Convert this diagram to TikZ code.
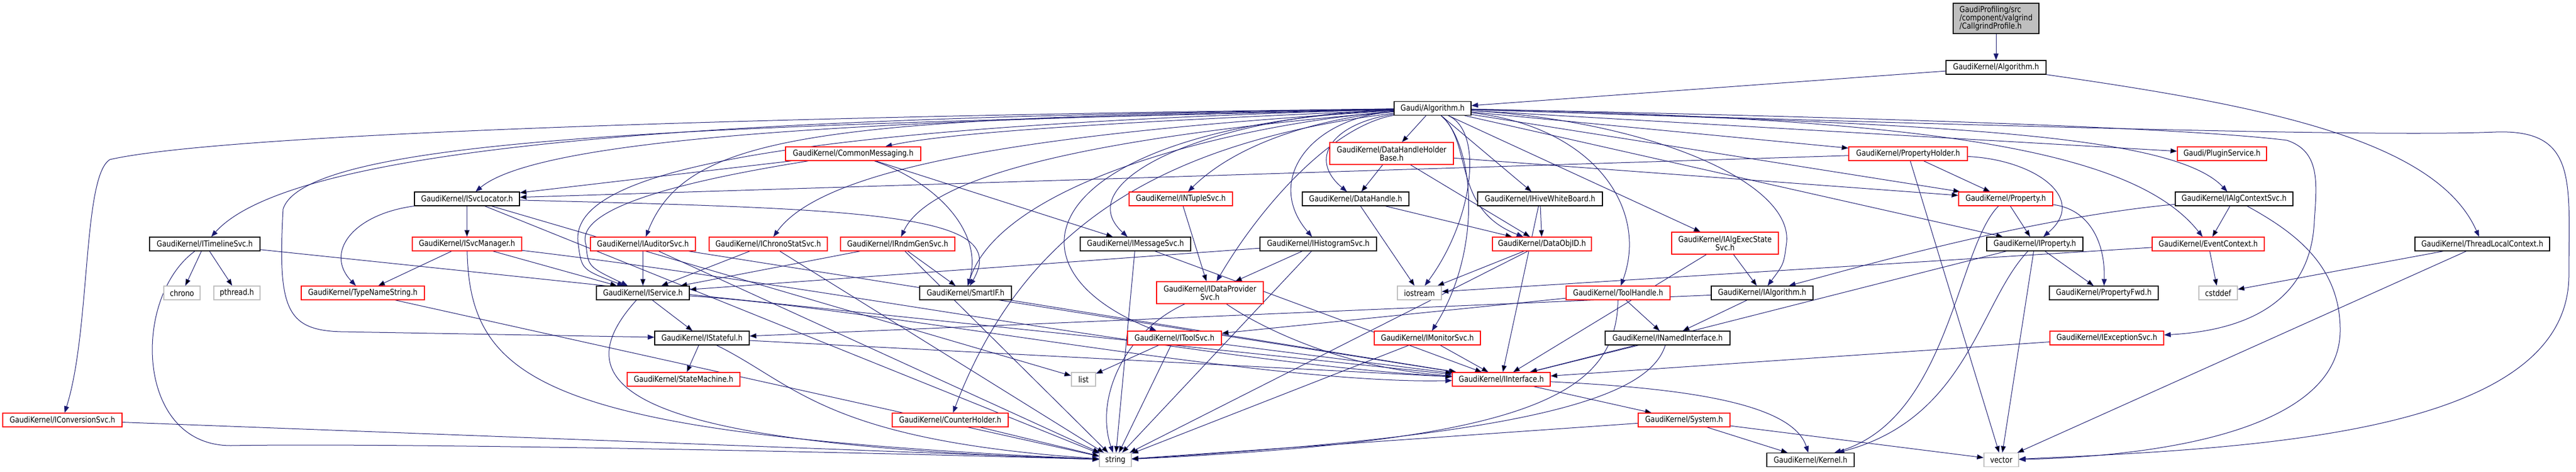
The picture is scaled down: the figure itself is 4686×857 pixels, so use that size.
\documentclass[tikz,border=0pt]{standalone}
\usepackage{fontspec}
\setmainfont{DejaVu Sans}[FakeStretch=0.85]
\usetikzlibrary{arrows.meta,backgrounds}
\definecolor{linkblue}{HTML}{191970}
\definecolor{greyline}{HTML}{BFBFBF}
\definecolor{cutred}{HTML}{FF0000}

\begin{document}
\begin{tikzpicture}[x=1pt, y=-1pt,
	hdr/.style={draw=black, fill=white, line width=1.3pt, minimum height=25pt, inner sep=0pt, align=center, font=\fontsize{15}{15}\selectfont},
	trunchdr/.style={hdr, draw=cutred},
	stdhdr/.style={hdr, draw=greyline},
	incl/.style={draw=linkblue, line width=1pt, -{Triangle[length=12pt,width=9pt]}}]

	\useasboundingbox (0,0) rectangle (4686,857);

	% the file and the header it includes
	\node[hdr, fill=greyline, minimum width=156pt, minimum height=55pt, align=left] (root) at (3631,33.5) {GaudiProfiling/src\\/component/valgrind\\/CallgrindProfile.h};
	\node[hdr, minimum width=182pt] (kalg) at (3631,122.5) {GaudiKernel/Algorithm.h};
	\node[hdr, minimum width=140pt] (galg) at (2606,197) {Gaudi/Algorithm.h};

	% rank 4
	\node[trunchdr, minimum width=246pt] (common) at (1552,279.5) {GaudiKernel/CommonMessaging.h};
	\node[trunchdr, minimum width=225pt, minimum height=40pt] (dhhb) at (2531.5,279) {GaudiKernel/DataHandleHolder\\Base.h};
	\node[trunchdr, minimum width=216pt] (propholder) at (3471,279.5) {GaudiKernel/PropertyHolder.h};
	\node[trunchdr, minimum width=162pt] (plugin) at (4042,279.5) {Gaudi/PluginService.h};

	% rank 5
	\node[hdr, minimum width=191pt] (svcloc) at (849.5,361.5) {GaudiKernel/ISvcLocator.h};
	\node[trunchdr, minimum width=188pt] (ntuple) at (2148,361.5) {GaudiKernel/INTupleSvc.h};
	\node[hdr, minimum width=194pt] (dhandle) at (2466,361.5) {GaudiKernel/DataHandle.h};
	\node[hdr, minimum width=227pt] (hive) at (2801.5,361.5) {GaudiKernel/IHiveWhiteBoard.h};
	\node[trunchdr, minimum width=171pt] (property) at (3648.5,361.5) {GaudiKernel/Property.h};
	\node[hdr, minimum width=214pt] (algctx) at (4064,361.5) {GaudiKernel/IAlgContextSvc.h};

	% rank 6
	\node[hdr, minimum width=201pt] (timeline) at (372.5,443.5) {GaudiKernel/ITimelineSvc.h};
	\node[trunchdr, minimum width=199pt] (svcmgr) at (849.5,443.5) {GaudiKernel/ISvcManager.h};
	\node[trunchdr, minimum width=191pt] (auditor) at (1169.5,443.5) {GaudiKernel/IAuditorSvc.h};
	\node[trunchdr, minimum width=215pt] (chronosvc) at (1397.5,443.5) {GaudiKernel/IChronoStatSvc.h};
	\node[trunchdr, minimum width=208pt] (rndm) at (1633,443.5) {GaudiKernel/IRndmGenSvc.h};
	\node[hdr, minimum width=201pt] (msgsvc) at (2065.5,443.5) {GaudiKernel/IMessageSvc.h};
	\node[hdr, minimum width=212pt] (histo) at (2398,443.5) {GaudiKernel/IHistogramSvc.h};
	\node[trunchdr, minimum width=180pt] (objid) at (2805,443.5) {GaudiKernel/DataObjID.h};
	\node[trunchdr, minimum width=194pt, minimum height=40pt] (algexec) at (3138,442) {GaudiKernel/IAlgExecState\\Svc.h};
	\node[hdr, minimum width=175pt] (iprop) at (3701.5,443.5) {GaudiKernel/IProperty.h};
	\node[trunchdr, minimum width=204pt] (evctx) at (4017,443.5) {GaudiKernel/EventContext.h};
	\node[hdr, minimum width=245pt] (tlc) at (4515.5,443.5) {GaudiKernel/ThreadLocalContext.h};

	% rank 7
	\node[stdhdr, minimum width=66pt] (chronoh) at (331,532.5) {chrono};
	\node[stdhdr, minimum width=84pt] (pthread) at (431,532.5) {pthread.h};
	\node[trunchdr, minimum width=224pt] (typename) at (660,532.5) {GaudiKernel/TypeNameString.h};
	\node[hdr, minimum width=169pt] (iservice) at (1169.5,532.5) {GaudiKernel/IService.h};
	\node[hdr, minimum width=167pt] (smartif) at (1756.5,532.5) {GaudiKernel/SmartIF.h};
	\node[trunchdr, minimum width=194pt, minimum height=40pt] (dps) at (2201,532) {GaudiKernel/IDataProvider\\Svc.h};
	\node[stdhdr, minimum width=80pt] (iostream) at (2582,532.5) {iostream};
	\node[trunchdr, minimum width=189pt] (toolhandle) at (2943.5,532.5) {GaudiKernel/ToolHandle.h};
	\node[hdr, minimum width=185pt] (ialg) at (3205.5,532.5) {GaudiKernel/IAlgorithm.h};
	\node[hdr, minimum width=198pt] (propfwd) at (3827,532.5) {GaudiKernel/PropertyFwd.h};
	\node[stdhdr, minimum width=70pt] (cstddef) at (4035,532.5) {cstddef};

	% rank 8
	\node[hdr, minimum width=172pt] (istateful) at (1277,614.5) {GaudiKernel/IStateful.h};
	\node[trunchdr, minimum width=171pt] (toolsvc) at (2136.5,614.5) {GaudiKernel/IToolSvc.h};
	\node[trunchdr, minimum width=193pt] (monitor) at (2596.5,614.5) {GaudiKernel/IMonitorSvc.h};
	\node[hdr, minimum width=227pt] (named) at (3033.5,614.5) {GaudiKernel/INamedInterface.h};
	\node[trunchdr, minimum width=207pt] (excsvc) at (3832.5,614.5) {GaudiKernel/IExceptionSvc.h};

	% rank 9
	\node[trunchdr, minimum width=205pt] (statemach) at (1243.5,689.5) {GaudiKernel/StateMachine.h};
	\node[stdhdr, minimum width=44pt] (list) at (1971,689.5) {list};
	\node[trunchdr, minimum width=178pt] (iinterface) at (2731,689.5) {GaudiKernel/IInterface.h};

	% rank 10
	\node[trunchdr, minimum width=217pt] (convsvc) at (113.5,763.5) {GaudiKernel/IConversionSvc.h};
	\node[trunchdr, minimum width=211pt] (counter) at (1728.5,763.5) {GaudiKernel/CounterHolder.h};
	\node[trunchdr, minimum width=167pt] (system) at (3063.5,763.5) {GaudiKernel/System.h};

	% rank 11
	\node[stdhdr, minimum width=58pt] (string) at (2029,836) {string};
	\node[hdr, minimum width=159pt] (kernel) at (3293.5,836) {GaudiKernel/Kernel.h};
	\node[stdhdr, minimum width=63pt] (vector) at (3640.5,836) {vector};

	\begin{pgfonlayer}{background}
	\draw[incl] (root) -- (kalg);
	\draw[incl] (kalg) -- (galg);
	\draw[incl] (kalg) .. controls (4100,190) and (4430,250) .. (tlc);

	% Gaudi/Algorithm.h
	\path[incl] (galg) edge (dhhb) edge (hive) edge (propholder) edge (plugin) edge (property) edge (iprop) edge (algexec);
	\draw[incl] (galg) .. controls (2200,215) and (1750,235) .. (common);
	\draw[incl] (galg) .. controls (1800,215) and (1000,235) .. (svcloc);
	\draw[incl] (galg) .. controls (1600,212) and (560,235) .. (timeline);
	\draw[incl] (galg) .. controls (1500,210) and (420,240) .. (200,290) .. controls (150,320) and (165,600) .. (convsvc);
	\draw[incl] (galg) .. controls (1400,228) and (560,240) .. (515,380) .. controls (505,560) and (520,600) .. (620,603) -- (istateful);
	\draw[incl] (galg) .. controls (1500,215) and (1250,240) .. (auditor);
	\draw[incl] (galg) .. controls (1900,240) and (1500,300) .. (chronosvc);
	\draw[incl] (galg) .. controls (2100,240) and (1700,300) .. (rndm);
	\draw[incl] (galg) .. controls (1350,232) and (1030,320) .. (1052,445) .. controls (1058,490) .. (iservice);
	\draw[incl] (galg) .. controls (2250,225) and (1820,330) .. (smartif);
	\draw[incl] (galg) .. controls (2100,260) and (1860,420) .. (counter);
	\draw[incl] (galg) .. controls (1900,230) and (1800,480) .. (toolsvc);
	\draw[incl] (galg) .. controls (2420,230) and (2290,380) .. (dps);
	\draw[incl] (galg) .. controls (2400,215) and (2250,260) .. (ntuple);
	\draw[incl] (galg) .. controls (2200,210) and (1940,330) .. (msgsvc);
	\draw[incl] (galg) .. controls (2380,215) and (2300,330) .. (histo);
	\draw[incl] (galg) .. controls (2420,225) and (2380,290) .. (dhandle);
	\draw[incl] (galg) .. controls (2680,260) and (2640,380) .. (objid);
	\draw[incl] (galg) .. controls (2700,240) and (2680,400) .. (iostream);
	\draw[incl] (galg) .. controls (2680,260) and (2700,450) .. (monitor);
	\draw[incl] (galg) .. controls (2900,230) and (3000,380) .. (toolhandle);
	\draw[incl] (galg) .. controls (3000,220) and (3260,330) .. (3250,440) .. controls (3245,480) .. (ialg);
	\draw[incl] (galg) .. controls (3500,225) and (3950,240) .. (algctx);
	\draw[incl] (galg) .. controls (3500,215) and (3880,270) .. (evctx);
	\draw[incl] (galg) .. controls (3500,215) and (4000,235) .. (4160,255) .. controls (4220,275) and (4215,330) .. (4210,400) .. controls (4205,540) and (4100,600) .. (excsvc);
	\draw[incl] (galg) .. controls (3500,225) and (4300,250) .. (4540,240) .. controls (4690,235) and (4673,330) .. (4673,500) .. controls (4673,790) and (4100,815) .. (vector);

	% rank 4 headers
	\path[incl] (common) edge (svcloc) edge (msgsvc);
	\draw[incl] (common) .. controls (1300,320) and (1040,370) .. (1066,445) .. controls (1070,485) .. (iservice);
	\draw[incl] (common) .. controls (1700,330) and (1790,420) .. (smartif);
	\path[incl] (dhhb) edge (dhandle) edge (objid) edge (property);
	\path[incl] (propholder) edge (property) edge (svcloc) edge (vector);
	\draw[incl] (propholder) .. controls (3700,290) and (3800,360) .. (iprop);

	% rank 5 headers
	\path[incl] (svcloc) edge (svcmgr) edge (list) edge (string);
	\draw[incl] (svcloc) .. controls (640,390) and (590,460) .. (typename);
	\draw[incl] (svcloc) .. controls (1600,380) and (1840,390) .. (smartif);
	\path[incl] (dhandle) edge (objid) edge (iostream);
	\path[incl] (hive) edge (objid) edge (iinterface);
	\path[incl] (ntuple) edge (dps);
	\path[incl] (property) edge (iprop);
	\draw[incl] (property) .. controls (3800,380) and (3830,440) .. (propfwd);
	\draw[incl] (property) .. controls (3560,450) and (3545,760) .. (kernel);
	\path[incl] (algctx) edge (evctx);
	\draw[incl] (algctx) .. controls (3700,395) and (3400,480) .. (ialg);
	\draw[incl] (algctx) .. controls (4170,420) and (4257,480) .. (4257,600) .. controls (4257,790) and (3900,830) .. (vector);

	% rank 6 headers
	\path[incl] (timeline) edge (chronoh) edge (pthread) edge (iinterface);
	\draw[incl] (timeline) .. controls (240,540) and (245,810) .. (420,810) .. controls (700,805) and (1500,820) .. (string);
	\path[incl] (svcmgr) edge (typename) edge (iservice);
	\draw[incl] (svcmgr) .. controls (1500,520) and (2200,660) .. (iinterface);
	\draw[incl] (svcmgr) .. controls (855,700) and (1000,790) .. (string);
	\path[incl] (auditor) edge (iservice) edge (iinterface) edge (string);
	\path[incl] (chronosvc) edge (iservice) edge (string);
	\path[incl] (rndm) edge (iservice) edge (smartif) edge (string);
	\path[incl] (msgsvc) edge (iinterface) edge (string);
	\path[incl] (histo) edge (dps) edge (iservice) edge (string);
	\path[incl] (objid) edge (iostream) edge (string);
	\path[incl] (algexec) edge (ialg) edge (iinterface);
	\path[incl] (iprop) edge (iinterface) edge (propfwd) edge (vector);
	\draw[incl] (iprop) .. controls (3600,550) and (3580,760) .. (kernel);
	\path[incl] (evctx) edge (cstddef) edge (iostream);
	\path[incl] (tlc) edge (cstddef) edge (vector);

	% rank 7 and below
	\path[incl] (typename) edge (string);
	\path[incl] (iservice) edge (istateful);
	\draw[incl] (iservice) .. controls (1600,560) and (2300,700) .. (iinterface);
	\draw[incl] (iservice) .. controls (1000,720) and (1200,810) .. (string);
	\path[incl] (smartif) edge (iinterface);
	\draw[incl] (dps) .. controls (2300,600) and (2450,670) .. (iinterface);
	\draw[incl] (dps) .. controls (2050,600) and (1990,720) .. (string);
	\path[incl] (toolhandle) edge (named) edge (toolsvc);
	\draw[incl] (toolhandle) .. controls (2940,720) and (2780,800) .. (string);
	\path[incl] (ialg) edge (named) edge (istateful);
	\path[incl] (istateful) edge (statemach) edge (iinterface);
	\draw[incl] (istateful) .. controls (1450,700) and (1500,800) .. (string);
	\path[incl] (toolsvc) edge (list) edge (string) edge (iinterface);
	\path[incl] (monitor) edge (iinterface) edge (string);
	\path[incl] (named) edge (iinterface);
	\draw[incl] (named) .. controls (3000,720) and (2800,790) .. (string);
	\path[incl] (excsvc) edge (iinterface);
	\path[incl] (iinterface) edge (system);
	\draw[incl] (iinterface) .. controls (3050,705) and (3260,730) .. (kernel);
	\path[incl] (system) edge (kernel) edge (string) edge (vector);
	\path[incl] (counter) edge (string);
	\path[incl] (convsvc) edge (string);
	\end{pgfonlayer}
\end{tikzpicture}
\end{document}
